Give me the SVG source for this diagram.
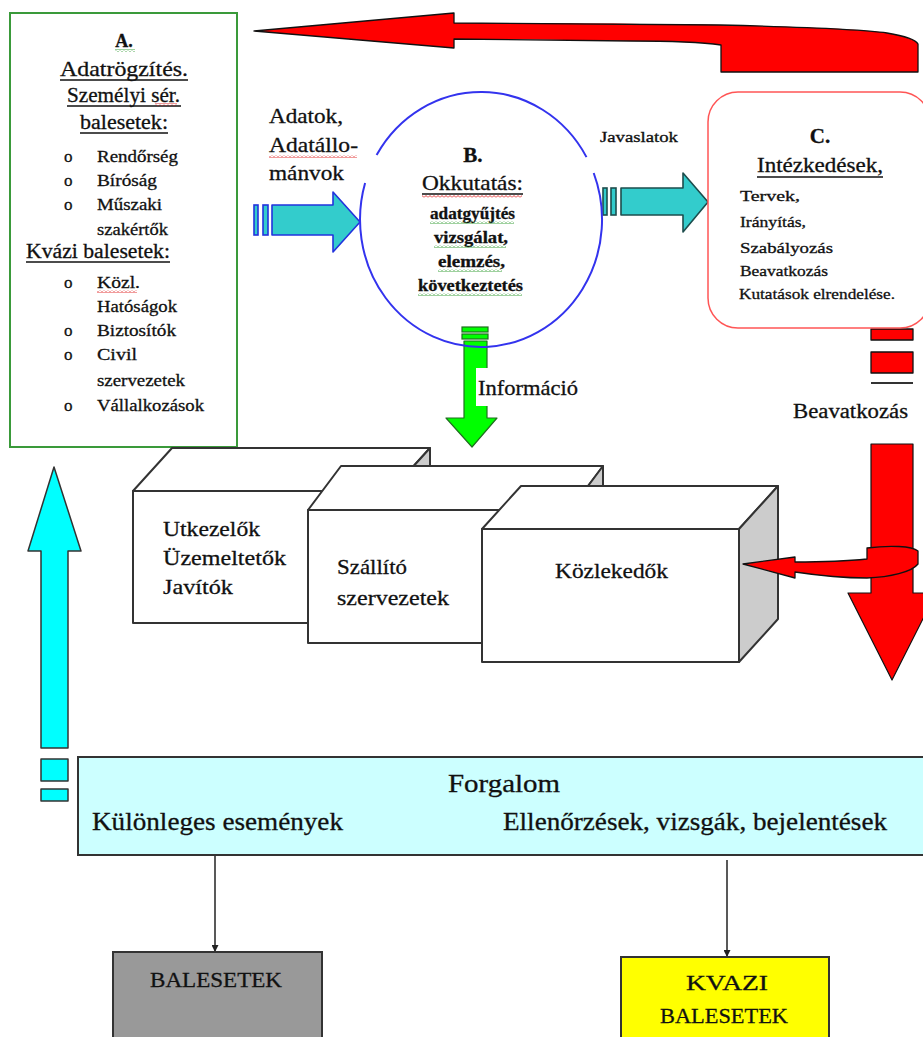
<svg xmlns="http://www.w3.org/2000/svg" width="923" height="1037" viewBox="0 0 923 1037">
<defs>
<style>
text{font-family:"Liberation Serif","Times New Roman",serif;fill:#111;stroke:#111;stroke-width:0.3;}
.ul{stroke:#111;stroke-width:1.3;}
.box3d{stroke:#333;stroke-width:2;stroke-linejoin:round;}
.front{fill:#fff;}
.side{fill:#cccccc;}
.red{fill:#ff0000;stroke:#111;stroke-width:1.3;stroke-linejoin:round;}
.teal{fill:#33cccc;}
.li{font-size:17px;}
.bul{font-size:17px;}
</style>
<pattern id="sqR" width="4" height="3" patternUnits="userSpaceOnUse"><polyline points="0,2.5 2,0.5 4,2.5" fill="none" stroke="#e02020" stroke-width="0.9"/></pattern>
<pattern id="sqG" width="4" height="3" patternUnits="userSpaceOnUse"><polyline points="0,2.5 2,0.5 4,2.5" fill="none" stroke="#2a9a2a" stroke-width="0.9"/></pattern>
<marker id="ah" viewBox="0 0 10 10" refX="10" refY="5" markerWidth="7" markerHeight="7" orient="auto" markerUnits="userSpaceOnUse"><path d="M0,0 L10,5 L0,10 Z" fill="#222"/></marker>
</defs>
<rect width="923" height="1037" fill="#fff"/>

<!-- Node A -->
<g id="nodeA">
<rect x="10" y="13" width="227" height="434" fill="#fff" stroke="#3a9a3a" stroke-width="2"/>
<text x="124" y="47" font-size="18" font-weight="bold" text-anchor="middle">A.</text>
<rect x="115" y="49" width="20" height="3" fill="url(#sqG)"/>
<text x="60" y="76" font-size="22" textLength="128" lengthAdjust="spacingAndGlyphs">Adatrögzítés.</text>
<line class="ul" x1="60" y1="80" x2="188" y2="80"/>
<text x="67" y="102" font-size="20" textLength="113" lengthAdjust="spacingAndGlyphs">Személyi sér.</text>
<line class="ul" x1="67" y1="106" x2="181" y2="106"/>
<rect x="155" y="103" width="22" height="3" fill="url(#sqR)"/>
<text x="80" y="129" font-size="20" textLength="88" lengthAdjust="spacingAndGlyphs">balesetek:</text>
<line class="ul" x1="80" y1="133" x2="168" y2="133"/>
<text class="bul" x="64" y="162">o</text>
<text class="li" x="97" y="162" textLength="81" lengthAdjust="spacingAndGlyphs">Rendőrség</text>
<text class="bul" x="64" y="186">o</text>
<text class="li" x="97" y="186" textLength="60" lengthAdjust="spacingAndGlyphs">Bíróság</text>
<text class="bul" x="64" y="210">o</text>
<text class="li" x="97" y="210" textLength="65" lengthAdjust="spacingAndGlyphs">Műszaki</text>
<text class="li" x="97" y="235" textLength="71" lengthAdjust="spacingAndGlyphs">szakértők</text>
<text x="26" y="258" font-size="20" textLength="144" lengthAdjust="spacingAndGlyphs">Kvázi balesetek:</text>
<line class="ul" x1="26" y1="262" x2="170" y2="262"/>
<text class="bul" x="64" y="288">o</text>
<text class="li" x="97" y="288" textLength="43" lengthAdjust="spacingAndGlyphs">Közl.</text>
<rect x="97" y="290" width="40" height="3" fill="url(#sqR)"/>
<text class="li" x="97" y="312" textLength="80" lengthAdjust="spacingAndGlyphs">Hatóságok</text>
<text class="bul" x="64" y="336">o</text>
<text class="li" x="97" y="336" textLength="79" lengthAdjust="spacingAndGlyphs">Biztosítók</text>
<text class="bul" x="64" y="360">o</text>
<text class="li" x="97" y="360" textLength="40" lengthAdjust="spacingAndGlyphs">Civil</text>
<text class="li" x="97" y="386" textLength="88" lengthAdjust="spacingAndGlyphs">szervezetek</text>
<text class="bul" x="64" y="411">o</text>
<text class="li" x="97" y="411" textLength="107" lengthAdjust="spacingAndGlyphs">Vállalkozások</text>
</g>

<!-- Connectors / arrows -->
<g id="connectors">
<path class="red" d="M254,31 L454,13 L454,23 C560,23 660,24 720,25 C800,27 860,29 887,33 C905,36 916,40 918,44 L918,72 L721,72 L721,45 C700,42 660,41 630,41 C560,40 500,39 454,39 L454,48 Z"/>
<g stroke="#2233dd" stroke-width="1.6">
<rect class="teal" x="254" y="205" width="4" height="30"/>
<rect class="teal" x="263" y="205" width="5" height="30"/>
<path class="teal" d="M272,205 L333,205 L333,192 L360,222 L333,252 L333,235 L272,235 Z" stroke-linejoin="round"/>
</g>
<g stroke="#1d4d4d" stroke-width="1.6">
<rect class="teal" x="603" y="188" width="4" height="27"/>
<rect class="teal" x="611" y="188" width="5" height="27"/>
<path class="teal" d="M621,188 L683,188 L683,173 L708,202 L683,232 L683,215 L621,215 Z" stroke-linejoin="round"/>
</g>
<g stroke="#1f6f1f" stroke-width="1.2">
<rect x="462" y="327" width="26" height="5" fill="#00ff00"/>
<rect x="462" y="334" width="26" height="5" fill="#00ff00"/>
<path d="M464,341 L487,341 L487,418 L497,418 L472,447 L446,418 L464,418 Z" fill="#00ff00" stroke-linejoin="round"/>
</g>
<rect x="476" y="368" width="108" height="38" fill="#fff"/>
<rect x="871" y="329" width="42" height="11" class="red"/>
<rect x="871" y="352" width="42" height="21" class="red"/>
<line x1="871" y1="383" x2="913" y2="383" stroke="#333" stroke-width="2"/>
<path d="M871,444 L913,444 L913,593 L936,593 L892,680 L848,593 L871,593 Z" fill="#ff0000" stroke="#111" stroke-width="1.2" stroke-linejoin="round"/>
<g stroke="#333" stroke-width="1.5" fill="#00ffff" stroke-linejoin="round">
<path d="M54,467 L81,551 L68,551 L68,748 L41,748 L41,551 L28,551 Z"/>
<rect x="41" y="759" width="27" height="22"/>
<rect x="41" y="789" width="27" height="12"/>
</g>
<line x1="215" y1="855" x2="215" y2="952" stroke="#222" stroke-width="1.5" marker-end="url(#ah)"/>
<line x1="727" y1="860" x2="727" y2="957" stroke="#222" stroke-width="1.5" marker-end="url(#ah)"/>
</g>

<!-- Node B -->
<g id="nodeB">
<path d="M593.7,173 A121,127.5 0 1,1 365.1,183" fill="none" stroke="#3333ee" stroke-width="2"/>
<path d="M376.6,155 A121,127.5 0 0,1 586.5,157.1" fill="none" stroke="#3333ee" stroke-width="2"/>
<text x="473" y="162" font-size="21" font-weight="bold" text-anchor="middle">B.</text>
<text x="422" y="190" font-size="21" textLength="101" lengthAdjust="spacingAndGlyphs">Okkutatás:</text>
<line class="ul" x1="422" y1="194" x2="523" y2="194"/>
<rect x="422" y="195" width="100" height="3" fill="url(#sqR)"/>
<g font-size="16" font-weight="bold">
<text x="430" y="219" textLength="85" lengthAdjust="spacingAndGlyphs">adatgyűjtés</text>
<text x="434" y="243" textLength="74" lengthAdjust="spacingAndGlyphs">vizsgálat,</text>
<text x="438" y="267" textLength="67" lengthAdjust="spacingAndGlyphs">elemzés,</text>
<text x="418" y="291" textLength="105" lengthAdjust="spacingAndGlyphs">következtetés</text>
</g>
<rect x="430" y="221" width="84" height="3" fill="url(#sqG)"/>
<rect x="434" y="245" width="72" height="3" fill="url(#sqG)"/>
<rect x="438" y="269" width="64" height="3" fill="url(#sqG)"/>
<rect x="418" y="293" width="104" height="3" fill="url(#sqG)"/>
</g>

<!-- Node C -->
<g id="nodeC">
<rect x="708" y="92" width="222" height="236" rx="30" fill="#fff" stroke="#ff5555" stroke-width="1.5"/>
<text x="820" y="143" font-size="21" font-weight="bold" text-anchor="middle">C.</text>
<text x="757" y="172" font-size="20" textLength="126" lengthAdjust="spacingAndGlyphs">Intézkedések,</text>
<line class="ul" x1="757" y1="177" x2="883" y2="177"/>
<g font-size="15">
<text x="740" y="201" textLength="60" lengthAdjust="spacingAndGlyphs">Tervek,</text>
<text x="740" y="227" textLength="66" lengthAdjust="spacingAndGlyphs">Irányítás,</text>
<text x="740" y="253" textLength="93" lengthAdjust="spacingAndGlyphs">Szabályozás</text>
<text x="740" y="276" textLength="88" lengthAdjust="spacingAndGlyphs">Beavatkozás</text>
<text x="739" y="299" textLength="156" lengthAdjust="spacingAndGlyphs">Kutatások elrendelése.</text>
</g>
</g>

<!-- labels -->
<g id="labels">
<text x="269" y="123" font-size="21" textLength="74" lengthAdjust="spacingAndGlyphs">Adatok,</text>
<text x="269" y="152" font-size="21" textLength="89" lengthAdjust="spacingAndGlyphs">Adatállo-</text>
<rect x="269" y="155" width="88" height="3" fill="url(#sqR)"/>
<text x="269" y="180" font-size="21" textLength="75" lengthAdjust="spacingAndGlyphs">mánvok</text>
<text x="600" y="142" font-size="14" textLength="78" lengthAdjust="spacingAndGlyphs">Javaslatok</text>
<text x="478" y="395" font-size="21" textLength="100" lengthAdjust="spacingAndGlyphs">Információ</text>
<text x="793" y="418" font-size="20" textLength="115" lengthAdjust="spacingAndGlyphs">Beavatkozás</text>
</g>

<!-- Box 1 -->
<g id="box1" class="box3d">
<path class="front" d="M133,491 L172,448 L430,448 L391,491 Z"/>
<path class="side" d="M391,491 L430,448 L430,580 L391,623 Z"/>
<rect class="front" x="133" y="491" width="258" height="132"/>
<g font-size="22" stroke-width="0.3">
<text x="163" y="536" textLength="97" lengthAdjust="spacingAndGlyphs">Utkezelők</text>
<text x="163" y="565" textLength="123" lengthAdjust="spacingAndGlyphs">Üzemeltetők</text>
<text x="163" y="594" textLength="70" lengthAdjust="spacingAndGlyphs">Javítók</text>
</g>
</g>

<!-- Box 2 -->
<g id="box2" class="box3d">
<path class="front" d="M308,510 L341,466 L603,466 L570,510 Z"/>
<path class="side" d="M570,510 L603,466 L603,599 L570,643 Z"/>
<rect class="front" x="308" y="510" width="262" height="133"/>
<g font-size="22">
<text x="337" y="574" textLength="70" lengthAdjust="spacingAndGlyphs">Szállító</text>
<text x="337" y="605" textLength="112" lengthAdjust="spacingAndGlyphs">szervezetek</text>
</g>
</g>

<!-- Box 3 -->
<g id="box3" class="box3d">
<path class="front" d="M482,529 L521,486 L778,486 L739,529 Z"/>
<path class="side" d="M739,529 L778,486 L778,619 L739,662 Z"/>
<rect class="front" x="482" y="529" width="257" height="133"/>
<text x="555" y="578" font-size="22" textLength="113" lengthAdjust="spacingAndGlyphs">Közlekedők</text>
</g>

<!-- small red curved arrow to Közlekedők -->
<g id="curvedArrow">
<path class="red" d="M743,564 L795,557 L795,562 C820,562 848,561 867,559 L867,548 C890,545 912,546 918,551 L918,564 C912,572 890,577 867,578 C840,578 815,575 795,572 L795,578 Z"/>
</g>

<!-- Forgalom -->
<g id="forgalom">
<rect x="78" y="757" width="860" height="98" fill="#ccffff" stroke="#333" stroke-width="2"/>
<text x="448" y="792" font-size="25" textLength="112" lengthAdjust="spacingAndGlyphs">Forgalom</text>
<text x="92" y="830" font-size="25" textLength="251" lengthAdjust="spacingAndGlyphs">Különleges események</text>
<text x="503" y="830" font-size="25" textLength="384" lengthAdjust="spacingAndGlyphs">Ellenőrzések, vizsgák, bejelentések</text>
</g>

<!-- BALESETEK -->
<g id="balesetek">
<rect x="113" y="952" width="209" height="100" fill="#999999" stroke="#333" stroke-width="2"/>
<text x="150" y="987" font-size="22" textLength="132" lengthAdjust="spacingAndGlyphs">BALESETEK</text>
</g>

<!-- KVAZI BALESETEK -->
<g id="kvazi">
<rect x="621" y="957" width="208" height="100" fill="#ffff00" stroke="#333" stroke-width="2"/>
<text x="686" y="990" font-size="22" textLength="82" lengthAdjust="spacingAndGlyphs">KVAZI</text>
<text x="660" y="1023" font-size="22" textLength="128" lengthAdjust="spacingAndGlyphs">BALESETEK</text>
</g>
</svg>
